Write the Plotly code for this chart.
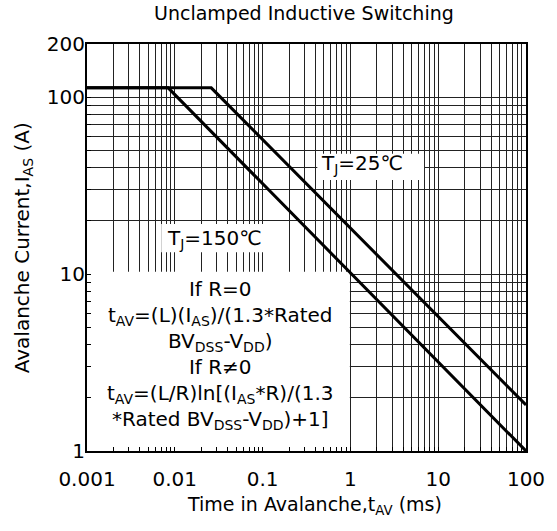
import plotly.graph_objects as go

# Data
t_150 = [0.001, 0.0084, 100]
i_150 = [113, 113, 1.0]
t_25 = [0.001, 0.026, 100]
i_25 = [113, 113, 1.82]

x_ticks = [0.001, 0.01, 0.1, 1, 10, 100]
x_ticktext = ["0.001", "0.01", "0.1", "1", "10", "100"]
y_ticks = [1, 10, 100, 200]
y_ticktext = ["1", "10", "100", "200"]
x_minor = [m * d for d in [0.001, 0.01, 0.1, 1, 10] for m in range(2, 10)]
y_minor = [m * d for d in [1, 10] for m in range(2, 10)]

FONT = "DejaVu Sans, Arial, sans-serif"

fig = go.Figure()
fig.add_trace(go.Scatter(x=t_150, y=i_150, mode="lines",
                         line=dict(color="black", width=3), showlegend=False))
fig.add_trace(go.Scatter(x=t_25, y=i_25, mode="lines",
                         line=dict(color="black", width=3), showlegend=False))

grid_col = "#222222"
fig.update_xaxes(type="log", range=[-3, 2], tickvals=x_ticks, ticktext=x_ticktext,
                 showgrid=True, gridcolor=grid_col, gridwidth=1,
                 ticks="inside", ticklen=4, tickcolor="black",
                 minor=dict(tickvals=x_minor, showgrid=True, gridcolor=grid_col,
                            gridwidth=1, ticks="inside", ticklen=4, tickcolor="black"),
                 showline=True, linecolor="black", linewidth=2, mirror=True,
                 tickfont=dict(size=20, color="black", family=FONT),
                 ticklabelstandoff=9,
                 zeroline=False)
fig.update_yaxes(type="log", range=[0, 2.30103], tickvals=y_ticks, ticktext=y_ticktext,
                 showgrid=True, gridcolor=grid_col, gridwidth=1,
                 ticks="inside", ticklen=4, tickcolor="black",
                 minor=dict(tickvals=y_minor, showgrid=True, gridcolor=grid_col,
                            gridwidth=1, ticks="inside", ticklen=4, tickcolor="black"),
                 showline=True, linecolor="black", linewidth=2, mirror=True,
                 tickfont=dict(size=20, color="black", family=FONT),
                 ticklabelstandoff=-4,
                 zeroline=False)

# White backgrounds behind texts (between grid and traces)
def white_rect(x0, x1, y0, y1):
    fig.add_shape(type="rect", xref="x", yref="y", x0=x0, x1=x1, y0=y0, y1=y1,
                  fillcolor="white", line=dict(width=0), layer="between")

white_rect(0.00101, 0.985, 1.02, 10.3)      # formula box
white_rect(0.42, 6.9, 34, 48)               # TJ=25 label
white_rect(0.0070, 0.106, 13.3, 19.2)       # TJ=150 label

box_text = ("If R=0<br>"
            "t<sub>AV</sub>=(L)(I<sub>AS</sub>)/(1.3*Rated<br>"
            "BV<sub>DSS</sub>-V<sub>DD</sub>)<br>"
            "If R≠0<br>"
            "t<sub>AV</sub>=(L/R)ln[(I<sub>AS</sub>*R)/(1.3<br>"
            "*Rated BV<sub>DSS</sub>-V<sub>DD</sub>)+1]")
fig.add_annotation(x=0.304, xref="paper", xanchor="center",
                   y=0.543, yref="y", yanchor="middle",
                   text=box_text, showarrow=False, align="center",
                   font=dict(size=20, color="black", family=FONT))

# log-axis annotation coordinates are log10 values
fig.add_annotation(x=0.131, xref="x", y=1.622, yref="y", xanchor="center", yanchor="middle",
                   text="T<sub>J</sub>=25℃", showarrow=False,
                   font=dict(size=20, color="black", family=FONT))
fig.add_annotation(x=-1.547, xref="x", y=1.201, yref="y", xanchor="center", yanchor="middle",
                   text="T<sub>J</sub>=150℃", showarrow=False,
                   font=dict(size=20, color="black", family=FONT))

# Axis titles and chart title
fig.add_annotation(x=-0.1464, xref="paper", y=0.5, yref="paper",
                   xanchor="center", yanchor="middle", textangle=-90,
                   text="Avalanche Current,I<sub>AS</sub> (A)", showarrow=False,
                   font=dict(size=20, color="black", family=FONT))
fig.add_annotation(x=0.519, xref="paper", y=-0.1327, yref="paper",
                   xanchor="center", yanchor="middle",
                   text="Time in Avalanche,t<sub>AV</sub> (ms)", showarrow=False,
                   font=dict(size=19, color="black", family=FONT))
fig.add_annotation(x=0.495, xref="paper", y=1.077, yref="paper",
                   xanchor="center", yanchor="middle",
                   text="Unclamped Inductive Switching", showarrow=False,
                   font=dict(size=19, color="black", family=FONT))

fig.update_layout(
    width=557, height=531,
    margin=dict(l=87, r=26, t=44, b=80),
    paper_bgcolor="white", plot_bgcolor="white",
)

fig.write_html("out.html", config={"displayModeBar": False},
               post_script="document.body.style.margin='0';")
